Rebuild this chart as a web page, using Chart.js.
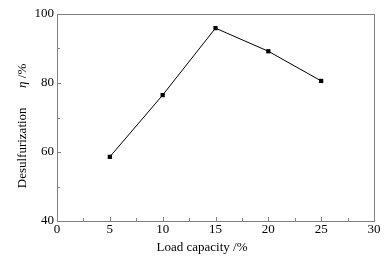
<!DOCTYPE html>
<html>
<head>
<meta charset="utf-8">
<script src="https://cdn.jsdelivr.net/npm/chart.js@4"></script>
<style>
html, body { margin: 0; padding: 0; background: #fff; }
#wrap { width: 391px; height: 262px; }
</style>
</head>
<body>
<div id="wrap"><canvas id="chart" width="391" height="262"></canvas></div>
<script>
var loadCapacity = [5, 10, 15, 20, 25];
var desulfurization = [58.6, 76.5, 95.9, 89.2, 80.6];
var xTicks = [0, 5, 10, 15, 20, 25, 30];
var yTicks = [40, 60, 80, 100];

var FONT = '"Liberation Serif", "Times New Roman", serif';
var AXIS = '#808080';

// ticks pointing inward + boxed frame + mixed-font titles
const framePlugin = {
    id: 'frame',
    afterDraw(chart) {
        const ctx = chart.ctx;
        const a = chart.chartArea;
        const x = chart.scales.x, y = chart.scales.y;
        ctx.save();
        ctx.strokeStyle = AXIS;
        ctx.lineWidth = 1;
        ctx.strokeRect(Math.round(a.left) + 0.5, Math.round(a.top) + 0.5,
            Math.round(a.right - a.left), Math.round(a.bottom - a.top));
        ctx.beginPath();
        for (let v = 0; v <= 30; v += 2.5) {
            const px = Math.round(x.getPixelForValue(v)) + 0.5;
            const len = v % 5 === 0 ? 4 : 3;
            ctx.moveTo(px, a.bottom);
            ctx.lineTo(px, a.bottom - len);
        }
        for (let v = 40; v <= 100; v += 10) {
            const py = Math.round(y.getPixelForValue(v)) + 0.5;
            const len = v % 20 === 0 ? 4 : 3;
            ctx.moveTo(a.left, py);
            ctx.lineTo(a.left + len, py);
        }
        ctx.stroke();

        ctx.fillStyle = '#000';
        ctx.font = '13px ' + FONT;
        ctx.textAlign = 'center';
        ctx.textBaseline = 'middle';
        ctx.fillText('Load capacity /%', 202, 248);

        ctx.translate(23, 126);
        ctx.rotate(-Math.PI / 2);
        const part1 = 'Desulfurization      ';
        const part2 = 'η';
        const part3 = ' /%';
        ctx.font = '13px ' + FONT;
        const w1 = ctx.measureText(part1).width;
        const w3 = ctx.measureText(part3).width;
        ctx.font = 'italic 13px ' + FONT;
        const w2 = ctx.measureText(part2).width;
        let sx = -(w1 + w2 + w3) / 2;
        ctx.textAlign = 'left';
        ctx.font = '13px ' + FONT;
        ctx.fillText(part1, sx, 0);
        ctx.font = 'italic 13px ' + FONT;
        ctx.fillText(part2, sx + w1, 0);
        ctx.font = '13px ' + FONT;
        ctx.fillText(part3, sx + w1 + w2, 0);
        ctx.restore();
    }
};

const ctx = document.getElementById('chart').getContext('2d');
var chart = new Chart(ctx, {
    type: 'line',
    data: {
        datasets: [{
            data: loadCapacity.map((v, i) => ({ x: v, y: desulfurization[i] })),
            borderColor: '#000',
            borderWidth: 1,
            backgroundColor: '#000',
            pointStyle: 'rect',
            pointRadius: 3,
            pointBorderWidth: 0,
            tension: 0
        }]
    },
    options: {
        responsive: false,
        animation: false,
        layout: { padding: { left: 0, right: 17, top: 14, bottom: 0 } },
        plugins: {
            legend: { display: false },
            tooltip: { enabled: false }
        },
        scales: {
            x: {
                type: 'linear',
                min: 0,
                max: 30,
                afterBuildTicks: s => { s.ticks = xTicks.map(v => ({ value: v })); },
                afterFit: s => { s.height = 41; },
                grid: { display: false, drawTicks: false },
                border: { display: false },
                ticks: {
                    color: '#000',
                    padding: 1,
                    font: { family: FONT, size: 13 }
                }
            },
            y: {
                min: 40,
                max: 100,
                afterBuildTicks: s => { s.ticks = yTicks.map(v => ({ value: v })); },
                afterFit: s => { s.width = 57; },
                grid: { display: false, drawTicks: false },
                border: { display: false },
                ticks: {
                    color: '#000',
                    padding: 3,
                    font: { family: FONT, size: 13 }
                }
            }
        }
    },
    plugins: [framePlugin]
});
</script>
</body>
</html>
